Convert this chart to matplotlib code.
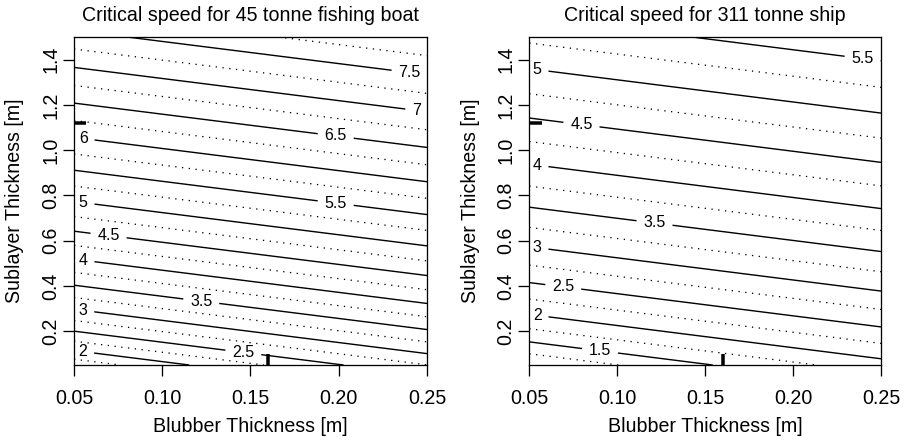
import numpy as np
import matplotlib
matplotlib.use("Agg")
import matplotlib.pyplot as plt

plt.rcParams['font.family'] = ['Liberation Sans', 'DejaVu Sans']
plt.rcParams['lines.scale_dashes'] = False

# ---- data ----
titles = ["Critical speed for 45 tonne fishing boat", "Critical speed for 311 tonne ship"]
x_label = "Blubber Thickness [m]"
y_label = "Sublayer Thickness [m]"
x_range = [0.05, 0.25]
y_range = [0.05, 1.5]
x_ticks = [0.05, 0.10, 0.15, 0.20, 0.25]
x_tick_labels = ["0.05", "0.10", "0.15", "0.20", "0.25"]
y_ticks = [0.2, 0.4, 0.6, 0.8, 1.0, 1.2, 1.4]
y_tick_labels = ["0.2", "0.4", "0.6", "0.8", "1.0", "1.2", "1.4"]

# critical speed model: v = A * (k*blubber + sublayer)^p + B  (coefficients estimated from contour positions)
boat_coef = dict(A=5.155, p=0.675, B=0.485, k=0.98)
ship_coef = dict(A=3.96, p=0.637, B=0.074, k=0.98)

boat_solid = [2, 2.5, 3, 3.5, 4, 4.5, 5, 5.5, 6, 6.5, 7, 7.5]
boat_dotted = [1.75, 2.25, 2.75, 3.25, 3.75, 4.25, 4.75, 5.25, 5.75, 6.25, 6.75, 7.25, 7.75]
ship_solid = [1.5, 2, 2.5, 3, 3.5, 4, 4.5, 5, 5.5]
ship_dotted = [1.25, 1.75, 2.25, 2.75, 3.25, 3.75, 4.25, 4.75, 5.25]

# label anchor positions (blubber, sublayer)
boat_label_pos = [(0.055, 0.111), (0.146, 0.108), (0.055, 0.288), (0.122, 0.325),
                  (0.055, 0.506), (0.0694, 0.610), (0.055, 0.756), (0.198, 0.749),
                  (0.055, 1.037), (0.198, 1.045), (0.244, 1.166), (0.240, 1.335)]
ship_label_pos = [(0.0901, 0.108), (0.0545, 0.270), (0.0693, 0.395), (0.0545, 0.573),
                  (0.1213, 0.683), (0.0545, 0.940), (0.0797, 1.115), (0.0545, 1.359),
                  (0.2396, 1.408)]

rug_blubber = [0.16]
rug_sublayer = [1.12]

panels = [
    (titles[0], boat_coef, boat_solid, boat_dotted, boat_label_pos),
    (titles[1], ship_coef, ship_solid, ship_dotted, ship_label_pos),
]

W, H = 906, 440
fig = plt.figure(figsize=(W / 72, H / 72), dpi=72)
rects = [(74 / W, 75 / H, 353 / W, 328 / H), (529.3 / W, 75 / H, 351.7 / W, 328 / H)]

xg = np.linspace(x_range[0], x_range[1], 201)
yg = np.linspace(y_range[0], y_range[1], 291)
X, Y = np.meshgrid(xg, yg)

FS = 19.6
for rect, (title, c, solid, dotted, lpos) in zip(rects, panels):
    ax = fig.add_axes(rect)
    Z = c['A'] * (c['k'] * X + Y) ** c['p'] + c['B']
    csd = ax.contour(X, Y, Z, levels=dotted, colors='black', linewidths=1.3)
    csd.set_linestyle((0, (1.3, 5.5)))
    css = ax.contour(X, Y, Z, levels=solid, colors='black', linewidths=1.4)
    ax.clabel(css, fmt=lambda v: f"{v:g}", fontsize=16, inline=True,
              inline_spacing=7, manual=lpos)
    for t in css.labelTexts:
        t.set_rotation(0)

    ax.set_xlim(*x_range)
    ax.set_ylim(*y_range)
    ax.set_xticks(x_ticks)
    ax.set_xticklabels(x_tick_labels)
    ax.set_yticks(y_ticks)
    ax.set_yticklabels(y_tick_labels, rotation=90, va='center')
    ax.tick_params(axis='both', direction='out', length=11, width=1.3, labelsize=FS, colors='black')
    ax.tick_params(axis='x', pad=13)
    ax.tick_params(axis='y', pad=3)
    for sp in ax.spines.values():
        sp.set_linewidth(1.3)

    # rug marks
    ax.plot([0, 0.035], [rug_sublayer[0]] * 2, transform=ax.get_yaxis_transform(),
            color='black', lw=3.5, solid_capstyle='butt', clip_on=False, zorder=5)
    ax.plot([rug_blubber[0]] * 2, [0, 0.034], transform=ax.get_xaxis_transform(),
            color='black', lw=3.5, solid_capstyle='butt', clip_on=False, zorder=5)

    ax.set_xlabel(x_label, fontsize=FS)
    ax.set_ylabel(y_label, fontsize=FS)
    ax.xaxis.set_label_coords(0.5, -0.188)
    ax.xaxis.label.set_va('center')
    ax.yaxis.set_label_coords(-59 / (rect[2] * W), 0.5)
    ax.yaxis.label.set_va('center')
    ax.text(0.5, 1.067, title, transform=ax.transAxes, ha='center', va='center', fontsize=FS)

fig.savefig("out.png", dpi=72)
